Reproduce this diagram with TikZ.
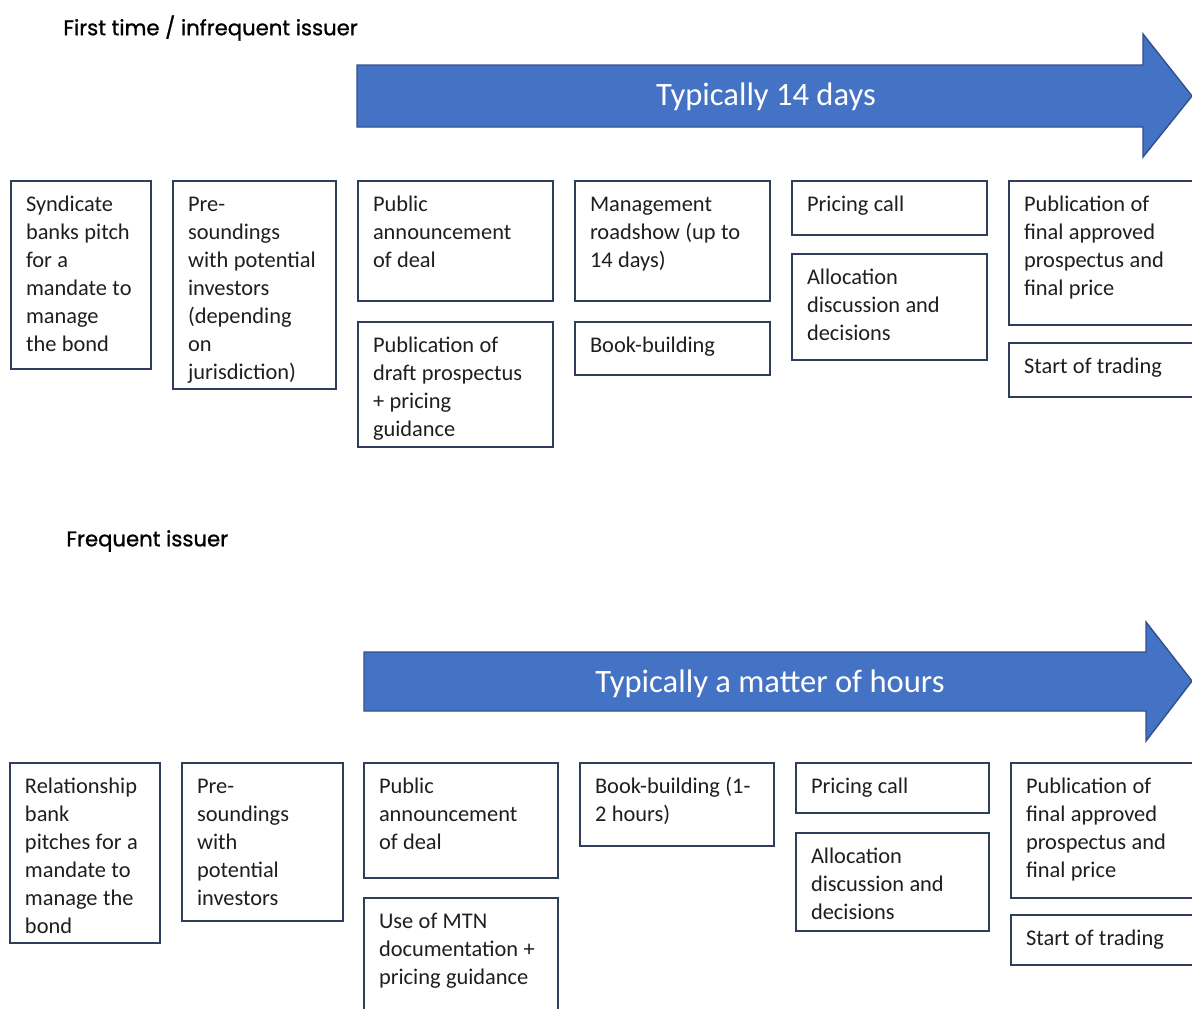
\documentclass[tikz,border=0pt]{standalone}
\usepackage{fontspec}
\setmainfont{Carlito}
\newfontfamily\headfont{Poppins}[FakeBold=1]
\usepackage{tikz}
\usetikzlibrary{positioning}

\definecolor{arrowfill}{RGB}{68,114,196}
\definecolor{arrowline}{RGB}{47,82,143}
\definecolor{boxline}{RGB}{47,62,90}
\definecolor{boxtext}{RGB}{30,30,30}

\tikzset{
  stepbox/.style={draw=boxline, line width=0.75pt, text=boxtext, anchor=north west,
    align=left, inner xsep=7.5pt, inner ysep=0pt, outer sep=0pt, text height=15pt,
    font=\fontsize{11.2pt}{14pt}\selectfont, execute at begin node={\spaceskip=2.7pt\relax}},
  boxsize/.style 2 args={text width=#1*0.5pt-15pt, text depth=#2*0.5pt-15pt},
  bigarrow/.style={fill=arrowfill, draw=arrowline, line width=0.7pt, line join=miter},
  arrowtext/.style={text=white, font=\fontsize{16.3pt}{18pt}\selectfont},
  heading/.style={anchor=west, inner sep=0pt, font=\headfont\fontsize{10.6pt}{12pt}\selectfont}
}

\begin{document}
\begin{tikzpicture}[x=0.5pt,y=-0.5pt]
\clip (0,0) rectangle (1192,1008);

% first time / infrequent issuer
\node[heading] (head1) at (63,28) {First time / infrequent issuer};
\draw[bigarrow] (357,65) -- (1143,65) -- (1143,34) -- (1192,96) -- (1143,157) -- (1143,127) -- (357,127) -- cycle;
\node[arrowtext] (time1) at (766,97) {Typically 14 days};

\node[stepbox, boxsize={140}{188}] (pitch1) at (11,181) {Syndicate\\banks pitch\\for a\\mandate to\\manage\\the bond};
\node[stepbox, boxsize={163}{208}] (sound1) at (173,181) {Pre-\\soundings\\with potential\\investors\\(depending\\on\\jurisdiction)};
\node[stepbox, boxsize={195}{120}] (announce1) at (358,181) {Public\\announcement\\of deal};
\node[stepbox, boxsize={195}{125}, below=10.5pt of announce1.south west, anchor=north west] (draft1) {Publication of\\draft prospectus\\+ pricing\\guidance};
\node[stepbox, boxsize={195}{120}] (road1) at (575,181) {Management\\roadshow (up to\\14 days)};
\node[stepbox, boxsize={195}{53}, below=10.5pt of road1.south west, anchor=north west] (book1) {Book-building};
\node[stepbox, boxsize={195}{54}] (price1) at (792,181) {Pricing call};
\node[stepbox, boxsize={195}{106}, below=9.5pt of price1.south west, anchor=north west] (alloc1) {Allocation\\discussion and\\decisions};
\node[stepbox, boxsize={206}{144}] (final1) at (1009,181) {Publication of\\final approved\\prospectus and\\final price};
\node[stepbox, boxsize={206}{54}, below=9pt of final1.south west, anchor=north west] (trade1) {Start of trading};

% frequent issuer
\node[heading] (head2) at (66,541) {Frequent issuer};
\draw[bigarrow] (364,652) -- (1146,652) -- (1146,622) -- (1192,681) -- (1146,741) -- (1146,711) -- (364,711) -- cycle;
\node[arrowtext] (time2) at (770,684) {Typically a matter of hours};

\node[stepbox, boxsize={150}{180}] (pitch2) at (10,763) {Relationship\\bank\\pitches for a\\mandate to\\manage the\\bond};
\node[stepbox, boxsize={161}{158}] (sound2) at (182,763) {Pre-\\soundings\\with\\potential\\investors};
\node[stepbox, boxsize={194}{115}] (announce2) at (364,763) {Public\\announcement\\of deal};
\node[stepbox, boxsize={194}{127}, below=10pt of announce2.south west, anchor=north west] (mtn2) {Use of MTN\\documentation +\\pricing guidance};
\node[stepbox, boxsize={194}{83}] (book2) at (580,763) {Book-building (1-\\2 hours)};
\node[stepbox, boxsize={193}{50}] (price2) at (796,763) {Pricing call};
\node[stepbox, boxsize={193}{98}, below=10pt of price2.south west, anchor=north west] (alloc2) {Allocation\\discussion and\\decisions};
\node[stepbox, boxsize={204}{135}] (final2) at (1011,763) {Publication of\\final approved\\prospectus and\\final price};
\node[stepbox, boxsize={204}{50}, below=8.5pt of final2.south west, anchor=north west] (trade2) {Start of trading};
\end{tikzpicture}
\end{document}
